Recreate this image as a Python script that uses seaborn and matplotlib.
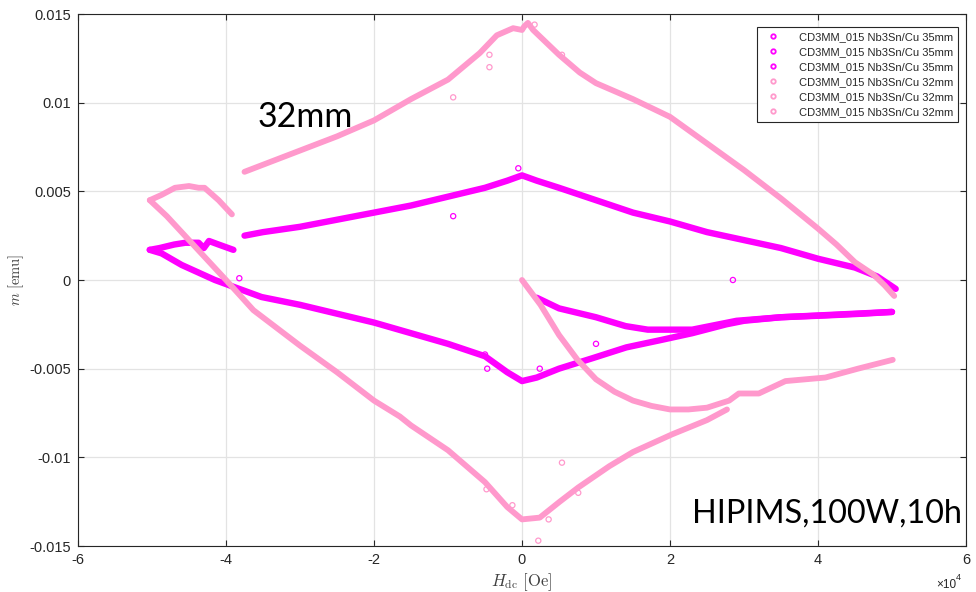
import numpy as np
import pandas as pd
import matplotlib
matplotlib.use("Agg")
import matplotlib.pyplot as plt
from matplotlib.lines import Line2D
import seaborn as sns

# ---------------- data ----------------
# 35 mm sample (magenta)
virgin35_H = [2000, 5000, 10000, 14000, 17000, 23000, 29000, 35000, 41000, 46000, 50000]
virgin35_m = [-0.0010, -0.0016, -0.0021, -0.0026, -0.0028, -0.0028, -0.0023, -0.0021, -0.0020, -0.0019, -0.0018]

desc35_H = [50500, 48000, 45000, 40000, 35000, 30000, 25000, 20000, 15000, 10000, 5000, 2000, 0,
            -2000, -5000, -10000, -15000, -20000, -25000, -30000, -35000, -37500]
desc35_m = [-0.0005, 0.0002, 0.0007, 0.0012, 0.0018, 0.00225, 0.0027, 0.0033, 0.0038, 0.0045, 0.0052, 0.0056, 0.0059,
            0.0056, 0.0052, 0.0047, 0.0042, 0.0038, 0.0034, 0.0030, 0.0027, 0.0025]

left35_H = [-39000, -41000, -42300, -43000, -43700, -45500, -47000, -49000, -50300]
left35_m = [0.0017, 0.0020, 0.0022, 0.0018, 0.0021, 0.0021, 0.0020, 0.0018, 0.0017]

asc35_H = [-50300, -48700, -46000, -41500, -35200, -30000, -25000, -20000, -15000, -10000, -5000, -2000, 0,
           2000, 5000, 9600, 14100, 18600, 23000, 27600, 30000, 35000, 40000, 45000, 50000]
asc35_m = [0.0017, 0.0015, 0.00085, 0.0000, -0.00096, -0.0014, -0.0019, -0.0024, -0.0030, -0.0036, -0.0043, -0.0052, -0.0057,
           -0.0055, -0.0050, -0.0044, -0.0038, -0.0034, -0.0030, -0.0025, -0.0023, -0.0021, -0.0020, -0.0019, -0.0018]

out35_H = [-500, -9300, 28500, -5000, -4700, 2400, 10000, -38200]
out35_m = [0.0063, 0.0036, 0.0000, -0.0042, -0.0050, -0.0050, -0.0036, 0.0001]

# 32 mm sample (pink)
virgin32_H = [0, 2500, 5000, 7500, 10000, 12500, 15000, 17500, 20000, 22500, 25000, 28000, 29300,
              32000, 35600, 41000, 45400, 50100]
virgin32_m = [0.0, -0.0014, -0.0031, -0.0045, -0.0056, -0.0063, -0.0068, -0.0071, -0.0073, -0.0073, -0.0072, -0.0068, -0.0064,
              -0.0064, -0.0057, -0.0055, -0.0050, -0.0045]

desc32_H = [50300, 49000, 47500, 45000, 42500, 40000, 35000, 30000, 25000, 20000, 15000, 10000, 7800, 5000, 3000,
            1500, 800, 300, 0, -1200, -3400, -5700, -10000, -15000, -20000, -25000, -30000, -35000, -37500]
desc32_m = [-0.0009, -0.0003, 0.0003, 0.0010, 0.0020, 0.0029, 0.0046, 0.0062, 0.0077, 0.0092, 0.0102, 0.0111, 0.0117, 0.0127, 0.0135,
            0.0141, 0.0145, 0.0143, 0.0141, 0.0142, 0.0138, 0.0128, 0.0113, 0.0102, 0.0090, 0.0081, 0.0073, 0.0065, 0.0061]

left32_H = [-39200, -41000, -42900, -43700, -45000, -46900, -48700, -50300]
left32_m = [0.0037, 0.0045, 0.0052, 0.0052, 0.0053, 0.0052, 0.0048, 0.0045]

asc32_H = [-50300, -48000, -46000, -44000, -42000, -40000, -36300, -30000, -25000, -20000, -16500, -15000, -10000, -5000,
           -2000, 0, 2400, 5100, 7600, 11800, 15000, 20300, 25000, 27700]
asc32_m = [0.0045, 0.0036, 0.0027, 0.0018, 0.0009, 0.0000, -0.0017, -0.0037, -0.0052, -0.0068, -0.0077, -0.0082, -0.0096, -0.0114,
           -0.0128, -0.0135, -0.0134, -0.0125, -0.0117, -0.0105, -0.0097, -0.0087, -0.0079, -0.0073]

out32_H = [-9300, -4400, -4400, 1700, 5400, 5400, 7600, 3600, 2200, -1300, -4800]
out32_m = [0.0103, 0.0127, 0.0120, 0.0144, 0.0127, -0.0103, -0.0120, -0.0135, -0.0147, -0.0127, -0.0118]

labels = ["CD3MM_015 Nb3Sn/Cu 35mm"] * 3 + ["CD3MM_015 Nb3Sn/Cu 32mm"] * 3

# ---------------- styling ----------------
sns.set_theme(style="white")
plt.rcParams["font.family"] = ["Liberation Sans", "DejaVu Sans"]
plt.rcParams["mathtext.fontset"] = "cm"
plt.rcParams["axes.unicode_minus"] = False

MAG = "#FF00FF"
PINK = "#FF99CC"
DARK = "#262626"

fig = plt.figure(figsize=(9.76, 5.92), dpi=100)
ax = fig.add_axes([78 / 976, 1 - 546 / 592, (966 - 78) / 976, (546 - 14) / 592])

segments = [
    (virgin35_H, virgin35_m, MAG, 4.6),
    (desc35_H, desc35_m, MAG, 4.6),
    (left35_H, left35_m, MAG, 4.6),
    (asc35_H, asc35_m, MAG, 4.6),
    (virgin32_H, virgin32_m, PINK, 4.2),
    (desc32_H, desc32_m, PINK, 4.2),
    (left32_H, left32_m, PINK, 4.2),
    (asc32_H, asc32_m, PINK, 4.2),
]
for i, (h, m, col, lw) in enumerate(segments):
    df = pd.DataFrame({"H": h, "m": m})
    sns.lineplot(data=df, x="H", y="m", ax=ax, color=col, linewidth=lw, sort=False,
                 estimator=None, solid_capstyle="round", solid_joinstyle="round", zorder=2 + (i >= 4))
    if i == 3:
        sns.scatterplot(x=out35_H, y=out35_m, ax=ax, marker="o", s=14, facecolors="none",
                        edgecolor=MAG, linewidth=0.9, zorder=3)
sns.scatterplot(x=out32_H, y=out32_m, ax=ax, marker="o", s=14, facecolors="none",
                edgecolor=PINK, linewidth=0.9, zorder=4)

ax.set_xlim(-60000, 60000)
ax.set_ylim(-0.015, 0.015)
xt = [-60000, -40000, -20000, 0, 20000, 40000, 60000]
ax.set_xticks(xt)
ax.set_xticklabels(["-6", "-4", "-2", "0", "2", "4", "6"])
yt = [-0.015, -0.01, -0.005, 0, 0.005, 0.01, 0.015]
ax.set_yticks(yt)
ax.set_yticklabels(["-0.015", "-0.01", "-0.005", "0", "0.005", "0.01", "0.015"])

ax.grid(True, color="#E3E3E3", linewidth=0.9)
ax.set_axisbelow(True)
for s in ax.spines.values():
    s.set_visible(True)
    s.set_color(DARK)
    s.set_linewidth(0.8)
ax.tick_params(axis="both", which="both", direction="in", length=4, width=0.8, color=DARK,
               top=True, right=True, bottom=True, left=True, labelsize=10.5, labelcolor=DARK, pad=5)

ax.set_xlabel(r"$H_{\mathrm{dc}}\ [\mathrm{Oe}]$", fontsize=12, color="#404040", labelpad=3)
ax.set_ylabel(r"$m\ [\mathrm{emu}]$", fontsize=10.5, color="#404040")
ax.yaxis.set_label_coords(-0.058, 0.5)

fig.text(936 / 976, 1 - 588 / 592, "×10", fontsize=8.5, color=DARK, ha="left", va="baseline")
fig.text(956 / 976, 1 - 580 / 592, "4", fontsize=6.5, color=DARK, ha="left", va="baseline")

ax.text(-35700, 0.0086, "32mm", fontsize=24.5, family=["Lato", "DejaVu Sans"], color="black")
ax.text(59400, -0.0137, "HIPIMS,100W,10h", fontsize=23.3, family=["Lato", "DejaVu Sans"], color="black",
        ha="right", va="baseline")

handles = [Line2D([], [], linestyle="none", marker="o", markersize=3.2, markerfacecolor="none",
                  markeredgewidth=1.3, markeredgecolor=c)
           for c in [MAG, MAG, MAG, PINK, PINK, PINK]]
leg = ax.legend(handles, labels, loc="upper right", bbox_to_anchor=(0.991, 0.975), fontsize=8,
                frameon=True, fancybox=False, framealpha=1, edgecolor=DARK, borderpad=0.45,
                labelspacing=0.45, handlelength=2.0, handletextpad=1.3, borderaxespad=0)
leg.get_frame().set_linewidth(0.8)
for t in leg.get_texts():
    t.set_color(DARK)

fig.savefig("out.png", dpi=100)
